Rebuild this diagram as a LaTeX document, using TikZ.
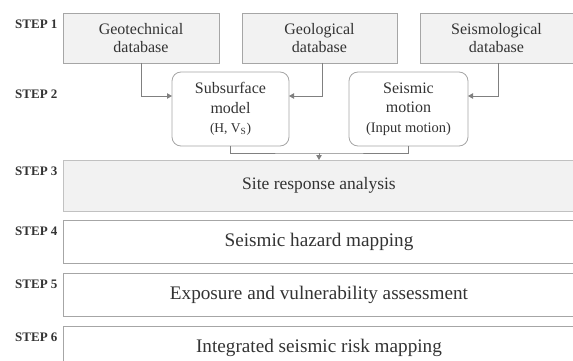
\documentclass[tikz,border=0pt]{standalone}
\usepackage{fontspec}
\setmainfont{Liberation Serif}
\usetikzlibrary{arrows.meta}
\definecolor{boxline}{HTML}{A6A6A6}
\definecolor{boxfill}{HTML}{F2F2F2}
\definecolor{connline}{HTML}{808080}
\definecolor{txt}{HTML}{333333}
\tikzset{
  dbbox/.style={draw=boxline, fill=boxfill, line width=0.8pt, inner sep=0pt, outer sep=0pt,
    align=center, text=txt, font=\fontsize{16}{18}\selectfont, minimum height=50pt},
  rbox/.style={draw=boxline, fill=white, line width=0.8pt, rounded corners=9pt, inner sep=0pt, outer sep=0pt,
    align=center, text=txt, font=\fontsize{16}{19.5}\selectfont, minimum width=117pt, minimum height=74pt},
  stepbox/.style={draw=boxline, line width=0.8pt, inner sep=0pt, outer sep=0pt, text=txt,
    minimum width=512pt, font=\fontsize{19.2}{22}\selectfont},
  steplabel/.style={anchor=west, inner sep=0pt, text=txt, font=\bfseries\fontsize{13}{15}\selectfont},
  conn/.style={draw=connline, line width=0.8pt},
  arr/.style={conn, -{Triangle[length=5pt,width=5.5pt]}}
}
\begin{document}
\begin{tikzpicture}[x=1pt,y=-1pt]
\useasboundingbox (0,0) rectangle (573,361);
% step 1
\node[dbbox, minimum width=156pt] (geot) at (141,38) {Geotechnical\\database};
\node[dbbox, minimum width=155pt] (geol) at (319.5,38) {Geological\\database};
\node[dbbox, minimum width=153pt] (seis) at (496.5,38) {Seismological\\database};
% step 2
\node[rbox] (subs) at (230.5,109) {Subsurface\\model\\{\fontsize{13.5}{19.5}\selectfont (H, V\textsubscript{S})}};
\node[rbox, minimum width=119pt] (mot) at (408.5,109) {Seismic\\motion\\{\fontsize{14.5}{19.5}\selectfont (Input motion)}};
% steps 3-6
\node[stepbox, fill=boxfill, draw=boxline!70, minimum height=51pt, font=\fontsize{17.5}{20}\selectfont] (s3) at (319,185.5) {Site response analysis};
\node[stepbox, minimum height=43pt] (s4) at (319,241.5) {Seismic hazard mapping};
\node[stepbox, minimum height=43pt] (s5) at (319,294.5) {Exposure and vulnerability assessment};
\node[stepbox, minimum height=43pt] (s6) at (319,347.5) {Integrated seismic risk mapping};
% labels
\node[steplabel] (l1) at (15,24) {STEP 1};
\node[steplabel] (l2) at (15,94) {STEP 2};
\node[steplabel] (l3) at (15,171) {STEP 3};
\node[steplabel] (l4) at (15,231) {STEP 4};
\node[steplabel] (l5) at (15,284) {STEP 5};
\node[steplabel] (l6) at (15,337) {STEP 6};
% connectors
\draw[arr] (geot.south) |- ([yshift=13pt]subs.west);
\draw[arr] ([xshift=2.5pt]geol.south) |- ([yshift=13pt]subs.east);
\draw[arr] ([xshift=1.5pt]seis.south) |- ([yshift=13pt]mot.east);
\coordinate (m) at (319,153);
\draw[conn] (subs.south) |- (m) -| (mot.south);
\draw[arr] (m) -- (s3.north);
\end{tikzpicture}
\end{document}
